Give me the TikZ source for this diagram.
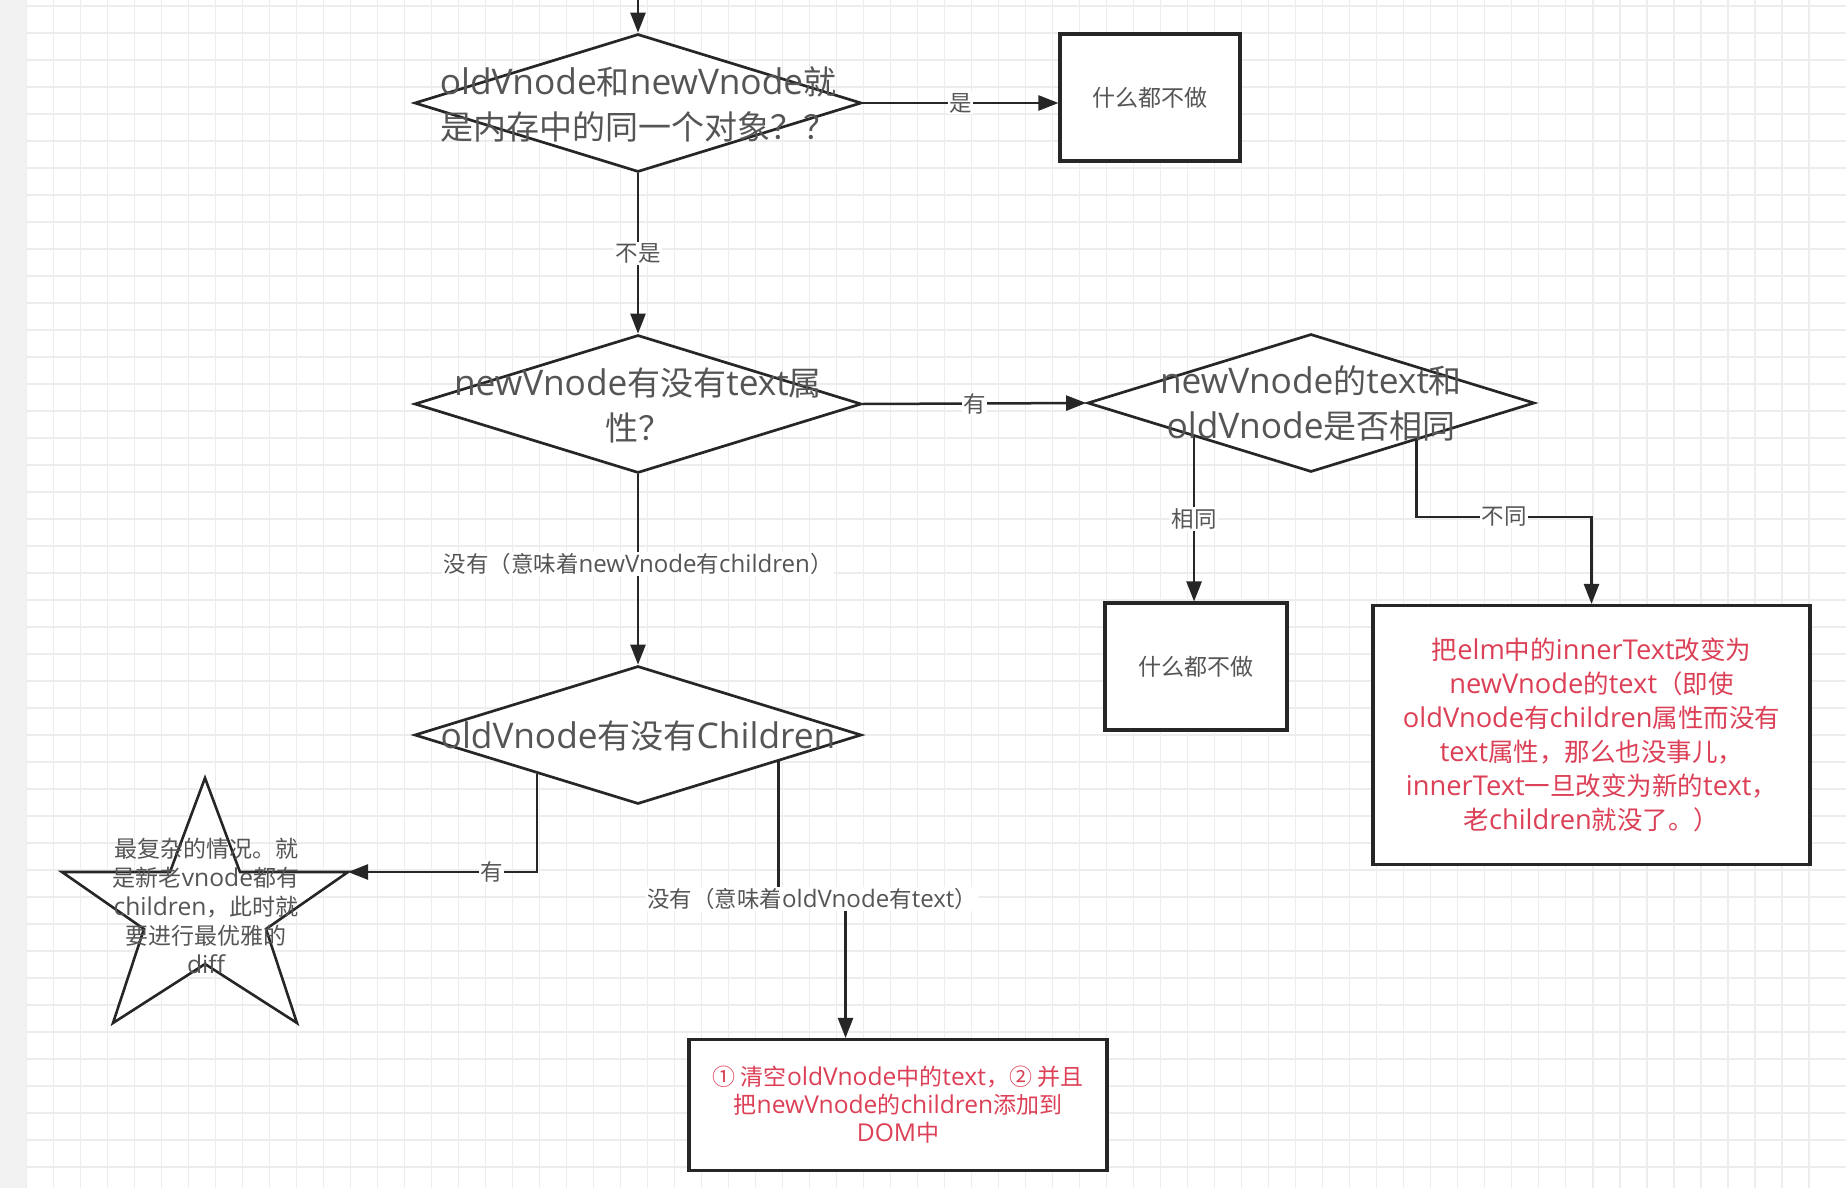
\documentclass[tikz,border=0pt]{standalone}
\usepackage{fontspec}
\setmainfont{Open Sans}[Scale=1.07]
\newfontfamily\cjkf{Noto Sans CJK SC}
\newcommand\Z[1]{{\cjkf #1}}
\usetikzlibrary{shapes.geometric,arrows.meta,calc}
\definecolor{lc}{HTML}{262626}
\definecolor{tg}{HTML}{555555}
\definecolor{rd}{RGB}{220,64,86}
\definecolor{gridc}{HTML}{EDEDED}
\definecolor{strip}{HTML}{F2F2F2}
\begin{document}
\begin{tikzpicture}[x=1pt,y=-1pt,
 dia/.style={draw=lc, fill=white, diamond, line width=2.7pt, minimum width=447pt, minimum height=138pt, inner sep=0pt},
 boxs/.style={draw=lc, fill=white, rectangle, line width=3.1pt, inner sep=0pt},
 dtext/.style={text=tg, align=center, font=\fontsize{33}{45}\selectfont},
 smalltext/.style={text=tg, align=center, font=\fontsize{23}{29}\selectfont},
 redtext/.style={text=rd, align=center},
 lbl/.style={fill=white, inner sep=1.5pt, text=tg, font=\fontsize{22.5}{27}\selectfont},
 arr/.style={draw=lc, line width=2.5pt, -{Triangle[length=20pt,width=15pt]}},
 gridline/.style={draw=gridc, line width=1.2pt}]
\useasboundingbox (0,0) rectangle (1846,1188);
\fill[white] (0,0) rectangle (1846,1188);
\fill[strip] (0,0) rectangle (26,1188);
\foreach \i in {0,...,66} \draw[gridline] ({26.3+27.01*\i},0) -- ({26.3+27.01*\i},1188);
\foreach \j in {0,...,43} \draw[gridline] (26.3,{6+27*\j}) -- (1846,{6+27*\j});

% shapes
\node[dia] (d1) at (638,103) {};
\node[dia] (d2) at (638,404) {};
\node[dia] (d3) at (1311,403) {};
\node[dia] (d4) at (638,735) {};
\node[boxs, minimum width=180pt, minimum height=127pt] (b1) at (1150,97.5) {};
\node[boxs, minimum width=182pt, minimum height=127pt] (b2) at (1196,666.5) {};
\node[boxs, minimum width=437pt, minimum height=259pt] (b3) at (1591.5,735) {};
\node[boxs, minimum width=418pt, minimum height=131pt] (b4) at (898,1105) {};

% star
\draw[draw=lc, fill=white, line width=2.6pt, line join=miter]
 (205,778) -- (240,872) -- (348,872) -- (266,929) -- (297,1023) -- (205,964)
 -- (113,1023) -- (144,929) -- (62,872) -- (170,872) -- cycle;
\coordinate (starR) at (348,872);

% anchor points on diamond borders
\path (d3.west) -- (d3.south) coordinate[pos=0.48] (d3a);
\path (d3.south) -- (d3.east) coordinate[pos=0.47] (d3b);
\path (d4.west) -- (d4.south) coordinate[pos=0.55] (d4a);
\path (d4.south) -- (d4.east) coordinate[pos=0.625] (d4b);
\coordinate (top) at (638,0);

% connectors
\draw[arr] (top) -- (d1.north);
\draw[arr] (d1.east) -- node[lbl]{\Z{是}} (d1.east -| b1.west);
\draw[arr] (d1.south) -- node[lbl]{\Z{不是}} (d2.north);
\draw[arr] (d2.east) -- node[lbl]{\Z{有}} (d3.west);
\draw[arr] (d3a) -- node[lbl]{\Z{相同}} (d3a |- b2.north);
\draw[arr] (d3b) |- node[lbl,pos=0.75]{\Z{不同}} ($(b3.north)+(0,-87)$) -- (b3.north);
\draw[arr] (d2.south) -- node[lbl,pos=0.47]{\Z{没有（意味着}newVnode\Z{有}children\Z{）}} (d4.north);
\draw[arr] (d4a) |- node[lbl,pos=0.62]{\Z{有}} (starR);
\draw[arr] (d4b) -- ++(0,137.5) coordinate (k1) -- node[lbl]{\Z{没有（意味着}oldVnode\Z{有}text\Z{）}} ++(67,0) coordinate (k2) -- (k2 |- b4.north);

% texts
\node[dtext] (t1) at (638,104) {oldVnode\Z{和}newVnode\Z{就}\\\Z{是内存中的同一个对象？？}};
\node[dtext] (t2) at (638,405) {newVnode\Z{有没有}text\Z{属}\\\Z{性？}};
\node[dtext] (t3) at (1311,403) {newVnode\Z{的}text\Z{和}\\oldVnode\Z{是否相同}};
\node[dtext] (t4) at (638,736) {oldVnode\Z{有没有}Children};
\node[smalltext] (tb1) at (b1) {\Z{什么都不做}};
\node[smalltext] (tb2) at (b2) {\Z{什么都不做}};
\node[redtext, font=\fontsize{25.5}{34}\selectfont] (tb3) at (b3) {\Z{把}elm\Z{中的}innerText\Z{改变为}\\newVnode\Z{的}text\Z{（即使}\\oldVnode\Z{有}children\Z{属性而没有}\\text\Z{属性，那么也没事儿，}\\innerText\Z{一旦改变为新的}text\Z{，}\\\Z{老}children\Z{就没了。）}};
\node[redtext, font=\fontsize{23}{28}\selectfont] (tb4) at (b4) {\Z{① 清空}oldVnode\Z{中的}text\Z{，② 并且}\\\Z{把}newVnode\Z{的}children\Z{添加到}\\DOM\Z{中}};
\node[smalltext] (ts) at (206,906) {\Z{最复杂的情况。就}\\\Z{是新老}vnode\Z{都有}\\children\Z{，此时就}\\\Z{要进行最优雅的}\\diff};
\end{tikzpicture}
\end{document}
